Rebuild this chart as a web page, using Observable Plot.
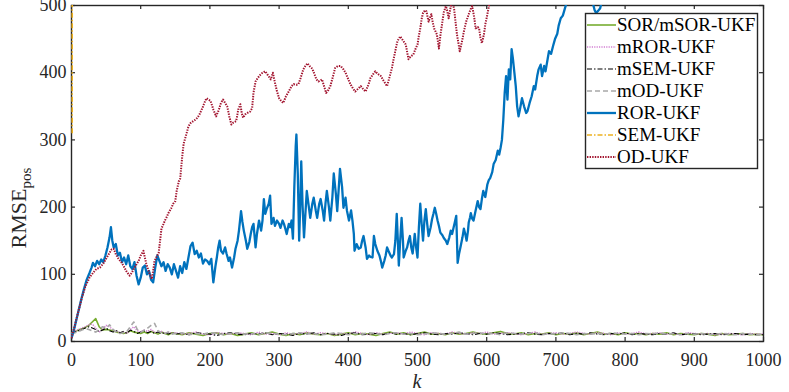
<!DOCTYPE html>
<html>
<head>
<meta charset="utf-8">
<script src="https://cdn.jsdelivr.net/npm/d3@7"></script>
<script src="https://cdn.jsdelivr.net/npm/@observablehq/plot@0.6"></script>
<style>
  html, body { margin: 0; padding: 0; background: #fff; }
  svg { display: block; }
</style>
</head>
<body>
<div id="chart"></div>
<script>
// ---------- DATA ----------
const xTicks = [0, 100, 200, 300, 400, 500, 600, 700, 800, 900, 1000];
const yTicks = [0, 100, 200, 300, 400, 500];
const seriesNames = ["SOR/mSOR-UKF", "mROR-UKF", "mSEM-UKF", "mOD-UKF", "ROR-UKF", "SEM-UKF", "OD-UKF"];

// time steps of the low-error series
const kLow = d3.range(0, 150, 5).concat(d3.range(150, 1001, 10));

const sorV = [12,15,17,19,21,24,29,34,22,17,18,17,16,14,13,12,13,16,14,13,12,14,12,15,13,11,14,12,10,13,
  12,10,13,11,9,12,13,10,12,9, 11,13,10,12,14,11,9,12,10,13, 11,10,12,9,11,13,10,12,11,9,
  12,14,11,13,10,12,14,11,12,10, 13,11,12,14,12,11,13,15,12,11, 13,10,12,11,13,10,12,11,13,10,
  12,14,11,12,10,13,11,12,10,12, 11,13,10,12,11,10,12,11,9,12, 10,11,12,10,11,10];
const mrorV = [12,15,18,20,22,25,26,20,14,18,24,22,17,15,13,14,12,18,22,16,14,17,15,18,14,13,15,12,14,12,
  13,11,12,14,11,10,13,12,11,13, 12,10,14,11,12,10,13,11,12,14, 11,13,12,10,12,11,14,12,10,13,
  11,12,13,11,14,12,10,13,12,11, 14,12,11,13,12,14,11,12,13,12, 10,12,14,11,12,13,11,12,14,12,
  11,13,12,10,13,11,12,14,11,12, 13,11,12,10,13,12,11,12,10,11, 12,11,10,12,11,11];
const msemV = [12,14,16,18,20,22,20,18,15,17,20,16,14,16,13,15,12,17,15,12,14,16,13,15,12,14,12,13,11,13,
  11,12,10,13,12,11,9,12,13,11, 10,12,11,13,10,12,11,9,12,11, 13,10,12,11,9,12,13,10,11,12,
  10,13,11,12,10,12,13,11,10,12, 11,13,12,10,12,11,13,12,10,11, 12,13,11,10,12,11,13,10,12,11,
  13,11,10,12,11,13,10,12,11,10, 12,11,13,10,11,12,10,11,12,10, 11,12,10,11,10,10];
const modV = [12,13,15,17,19,18,16,14,18,22,20,25,18,14,12,13,15,22,29,18,14,17,20,24,27,16,13,12,14,11,
  12,13,10,12,11,13,12,10,12,13, 11,12,10,13,12,11,10,12,13,11, 12,10,11,13,12,10,12,11,13,12,
  10,12,13,11,12,10,11,13,12,11, 12,14,11,12,13,11,12,10,13,12, 11,12,13,10,12,11,13,12,10,12,
  11,12,10,13,12,11,12,10,12,11, 13,11,12,10,12,11,12,10,11,12, 11,10,12,11,10,11];

const ror = [[0,5],[3,15],[6,28],[10,45],[14,62],[18,78],[22,92],[26,102],[29,110],[31,117],[34,112],[37,120],[40,115],[43,122],[46,118],[49,128],[52,140],[55,155],[57,170],[59,150],[61,140],[64,145],[67,128],[70,132],[73,118],[76,125],[79,115],[82,128],[85,112],[88,108],[91,118],[94,98],[97,85],[100,95],[103,110],[106,113],[109,100],[112,105],[115,92],[118,88],[121,110],[124,128],[127,120],[130,112],[133,118],[136,105],[139,115],[142,110],[145,100],[148,115],[151,105],[154,95],[157,112],[160,102],[163,118],[166,108],[169,125],[172,142],[175,147],[178,130],[181,135],[184,125],[187,131],[190,116],[193,122],[196,120],[199,115],[202,123],[205,88],[208,112],[210,125],[212,140],[214,150],[216,135],[219,131],[222,140],[224,131],[227,120],[229,125],[232,110],[235,125],[237,138],[240,150],[242,165],[245,194],[247,178],[249,165],[252,150],[254,138],[257,148],[259,160],[261,170],[263,175],[266,140],[268,160],[271,180],[274,165],[276,180],[278,212],[280,190],[282,197],[285,205],[287,217],[289,175],[292,184],[294,172],[297,180],[300,175],[302,169],[305,180],[307,175],[309,168],[311,160],[314,175],[316,170],[318,180],[320,153],[322,230],[324,290],[325,308],[327,250],[329,150],[331,220],[332,268],[334,200],[336,155],[338,190],[340,224],[343,200],[345,184],[348,205],[350,214],[353,195],[355,184],[358,205],[360,212],[363,195],[365,180],[367,205],[369,224],[372,200],[374,180],[377,215],[379,250],[382,220],[384,194],[386,225],[388,257],[391,230],[393,199],[396,214],[398,195],[401,180],[404,195],[406,180],[408,160],[409,135],[412,145],[415,138],[418,140],[420,150],[422,157],[425,140],[427,123],[430,128],[432,126],[435,125],[437,157],[439,145],[442,135],[445,128],[447,120],[449,110],[452,120],[454,128],[456,140],[458,135],[461,128],[463,125],[466,130],[468,150],[470,190],[472,140],[473,113],[475,150],[477,184],[479,150],[480,125],[483,135],[485,140],[487,150],[489,157],[491,140],[493,131],[495,150],[496,160],[498,140],[500,125],[502,170],[504,205],[506,175],[508,150],[510,180],[512,197],[514,175],[516,157],[519,170],[521,182],[523,190],[525,199],[527,190],[529,180],[531,172],[533,162],[536,158],[538,154],[541,150],[543,145],[546,155],[548,165],[550,160],[552,169],[554,178],[556,187],[558,117],[560,130],[562,140],[565,155],[567,168],[569,160],[571,150],[573,165],[574,177],[576,185],[577,191],[579,183],[581,180],[584,195],[587,209],[589,200],[591,197],[593,212],[595,224],[598,215],[601,234],[603,240],[605,243],[608,252],[610,264],[613,270],[616,284],[618,278],[620,288],[622,300],[624,330],[626,370],[628,395],[630,360],[632,405],[634,390],[636,435],[638,420],[640,400],[642,380],[644,350],[646,335],[648,345],[651,362],[654,350],[657,340],[659,343],[662,355],[665,365],[668,380],[670,375],[673,395],[675,405],[678,412],[680,395],[683,410],[685,402],[688,420],[690,432],[693,428],[696,440],[699,451],[702,458],[704,470],[707,481],[710,485],[712,492],[714,499],[717,510],[720,530],[725,550],[730,570],[735,590],[740,560],[745,540],[750,520],[753,505],[756,493],[758,489],[761,492],[764,496],[766,505],[770,530],[780,580],[800,650],[850,760],[900,880],[950,1000],[1000,1100]];

const sem = [[1,310],[2,4000],[5,6000],[1000,8000]];

const od = [[0,5],[5,25],[10,45],[15,65],[20,82],[26,95],[31,102],[36,108],[41,110],[46,116],[51,125],[55,132],[58,137],[61,138],[64,130],[68,123],[72,118],[75,113],[79,105],[84,98],[87,102],[90,108],[94,115],[97,120],[100,128],[104,135],[106,125],[108,116],[112,103],[116,93],[118,105],[120,120],[123,126],[126,132],[128,150],[130,168],[133,175],[135,180],[138,186],[140,191],[144,198],[147,205],[150,209],[152,224],[155,238],[157,242],[160,275],[162,294],[165,305],[169,320],[172,325],[176,328],[179,330],[182,333],[185,338],[189,347],[192,355],[195,362],[198,360],[201,358],[205,345],[209,335],[213,345],[216,355],[219,360],[222,355],[225,350],[228,335],[231,323],[234,326],[238,328],[241,345],[244,353],[246,340],[248,333],[251,338],[254,340],[258,342],[261,347],[263,370],[266,387],[269,392],[273,397],[276,400],[280,402],[284,396],[288,390],[291,400],[294,385],[297,372],[300,362],[303,358],[306,355],[310,365],[314,372],[318,380],[321,383],[325,382],[328,383],[331,392],[335,405],[338,410],[341,414],[344,410],[348,406],[351,398],[354,390],[357,387],[362,390],[365,380],[368,370],[371,374],[374,380],[378,395],[381,407],[385,410],[389,410],[393,405],[396,400],[400,390],[403,383],[407,376],[410,372],[414,376],[418,380],[422,375],[425,372],[429,382],[432,392],[436,398],[439,402],[443,398],[447,395],[451,388],[456,380],[460,395],[463,407],[467,428],[471,447],[475,454],[479,448],[483,442],[487,420],[490,424],[494,427],[497,435],[500,442],[502,455],[504,466],[506,480],[508,489],[511,493],[513,491],[516,476],[518,482],[520,487],[522,475],[524,466],[528,457],[531,436],[533,455],[536,476],[538,490],[541,499],[543,492],[545,481],[548,498],[550,510],[553,494],[555,475],[557,457],[559,445],[561,432],[564,445],[567,461],[570,475],[574,487],[577,495],[579,499],[582,482],[584,466],[587,468],[589,466],[591,452],[593,444],[596,457],[598,472],[601,487],[603,498],[605,510],[610,540],[620,600],[700,800],[800,950],[1000,1200]];

// ---------- STYLES ----------
const styles = [
  {color: "#77AC30", width: 1.6, dash: null},
  {color: "#D27FD2", width: 1.5, dash: "1.2,1.2"},
  {color: "#000000", width: 1.1, dash: "5,2,1.5,2"},
  {color: "#A8A8A8", width: 1.6, dash: "5,3"},
  {color: "#0072BD", width: 2.3, dash: null},
  {color: "#EDB120", width: 1.6, dash: "5,2,1.5,2"},
  {color: "#A2142F", width: 2, dash: "1.4,1.2"}
];

const lowRows = (vals) => kLow.map((k, i) => ({k, v: vals[i]}));
const pairRows = (arr) => arr.map(([k, v]) => ({k, v}));
const seriesData = [lowRows(sorV), lowRows(mrorV), lowRows(msemV), lowRows(modV), pairRows(ror), pairRows(sem), pairRows(od)];

const W = 789, H = 392, mL = 71, mR = 26, mT = 5, mB = 51;
const pw = W - mL - mR, ph = H - mT - mB;

const lineMarks = seriesData.map((d, i) => Plot.line(d, {
  x: "k", y: "v", stroke: styles[i].color, strokeWidth: styles[i].width,
  strokeDasharray: styles[i].dash, strokeLinecap: "butt", strokeLinejoin: "round", clip: true
}));

const axisColor = "#262626";
const chart = Plot.plot({
  width: W, height: H,
  marginLeft: mL, marginRight: mR, marginTop: mT, marginBottom: mB,
  style: {fontFamily: "'Liberation Serif', 'Times New Roman', serif", fontSize: "18px", color: axisColor, background: "#fff"},
  x: {domain: [0, 1000]},
  y: {domain: [0, 500]},
  marks: [
    Plot.frame({stroke: axisColor, strokeWidth: 1.4}),
    Plot.tickX(xTicks, {x: d => d, insetTop: ph - 4, stroke: axisColor, strokeWidth: 1.2}),
    Plot.tickX(xTicks, {x: d => d, insetBottom: ph - 4, stroke: axisColor, strokeWidth: 1.2}),
    Plot.tickY(yTicks, {y: d => d, insetRight: pw - 4, stroke: axisColor, strokeWidth: 1.2}),
    Plot.tickY(yTicks, {y: d => d, insetLeft: pw - 4, stroke: axisColor, strokeWidth: 1.2}),
    Plot.axisX({ticks: xTicks, tickSize: 0, tickPadding: 12, label: null, tickFormat: d => String(d), fontSize: 18}),
    Plot.axisY({ticks: yTicks, tickSize: 0, tickPadding: 5, label: null, tickFormat: d => String(d), fontSize: 18}),
    ...lineMarks
  ]
});

document.getElementById("chart").appendChild(chart);

const svg = d3.select(chart);
const font = "'Liberation Serif', 'Times New Roman', serif";

// x label
svg.append("text")
  .attr("x", mL + pw / 2).attr("y", 388)
  .attr("text-anchor", "middle")
  .attr("font-family", font).attr("font-size", 20).attr("font-style", "italic")
  .attr("fill", axisColor)
  .text("k");

// y label with subscript
const yl = svg.append("text")
  .attr("transform", "translate(26,208) rotate(-90)")
  .attr("text-anchor", "middle")
  .attr("font-family", font).attr("font-size", 22)
  .attr("fill", axisColor);
yl.append("tspan").text("RMSE");
yl.append("tspan").attr("font-size", 15).attr("dy", 5).text("pos");

// legend
const lg = svg.append("g");
lg.append("rect")
  .attr("x", 585.5).attr("y", 13.5).attr("width", 172).attr("height", 155)
  .attr("fill", "#fff").attr("stroke", axisColor).attr("stroke-width", 1.4);
seriesNames.forEach((name, i) => {
  const cy = 25 + i * 22;
  lg.append("line")
    .attr("x1", 587).attr("x2", 616).attr("y1", cy).attr("y2", cy)
    .attr("stroke", styles[i].color).attr("stroke-width", styles[i].width)
    .attr("stroke-dasharray", styles[i].dash);
  lg.append("text")
    .attr("x", 617).attr("y", cy).attr("dy", "0.34em")
    .attr("text-anchor", "start")
    .attr("font-family", font).attr("font-size", 19)
    .attr("fill", "#000")
    .text(name);
});
</script>
</body>
</html>
